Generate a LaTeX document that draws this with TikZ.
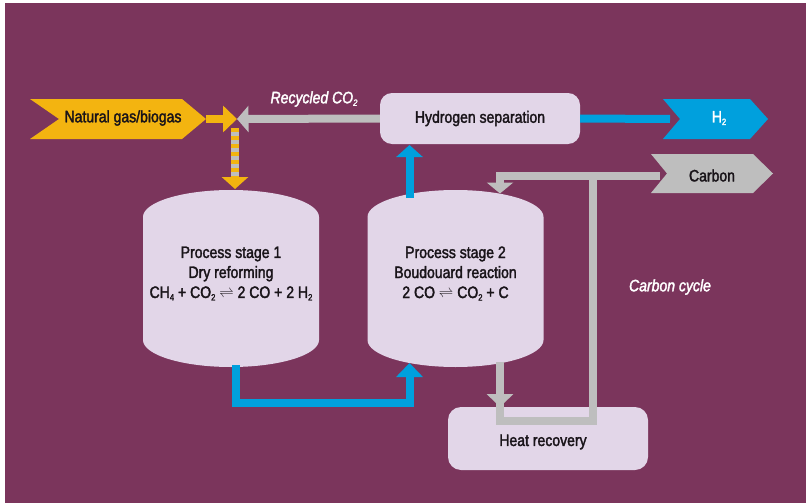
\documentclass[tikz,border=0pt]{standalone}
\usepackage{fontspec}
\setmainfont{Liberation Sans}[FakeStretch=0.85,FakeBold=2]
\usetikzlibrary{arrows.meta}
\definecolor{bgpurple}{RGB}{123,53,92}
\definecolor{lav}{RGB}{226,214,232}
\definecolor{ylw}{RGB}{243,180,16}
\definecolor{blu}{RGB}{0,160,221}
\definecolor{gry}{RGB}{190,190,190}
\definecolor{ink}{RGB}{25,20,25}
\newcommand\lowidx[1]{\raisebox{-2.5pt}{\fontsize{9}{9}\selectfont #1}}
\newcommand\eqsign{\raisebox{0.5pt}{\scalebox{0.85}{$\rightleftharpoons$}}}
\tikzset{
  box/.style={fill=lav, draw=none, rounded corners=12pt, text=ink, font=\fontsize{16.5}{19.5}\selectfont},
  lbl/.style={text=ink, font=\fontsize{16.5}{20}\selectfont, align=center},
  wlbl/.style={text=white, font=\fontsize{16.5}{19.5}\selectfont\itshape},
  flow/.style={line width=8pt},
}
\newcommand\drawvessel[1]{%
  \fill[lav] (#1-88,217) .. controls (#1-88,202.1) and (#1-48.6,190) .. (#1,190)
    .. controls (#1+48.6,190) and (#1+88,202.1) .. (#1+88,217)
    -- (#1+88,340) .. controls (#1+88,354.9) and (#1+48.6,367) .. (#1,367)
    .. controls (#1-48.6,367) and (#1-88,354.9) .. (#1-88,340) -- cycle;}
\begin{document}
\begin{tikzpicture}[x=1pt,y=-1pt]
\useasboundingbox (0,0) rectangle (806,503);
\fill[white] (0,0) rectangle (806,503);
\fill[bgpurple] (5,3) rectangle (806,503);

% vessels
\drawvessel{231}
\drawvessel{455.5}
\node[lbl] (v1) at (231,273.5) {Process stage 1\\Dry reforming\\CH\lowidx{4} + CO\lowidx{2} \eqsign{} 2 CO + 2 H\lowidx{2}};
\node[lbl] (v2) at (455.5,273.5) {Process stage 2\\Boudouard reaction\\2 CO \eqsign{} CO\lowidx{2} + C};

% boxes
\node[box, minimum width=200pt, minimum height=51pt] (hs) at (480,118.5) {Hydrogen separation};
\node[box, minimum width=200pt, minimum height=63pt, rounded corners=13pt] (hr) at (548,438.5) {};
\node[lbl] (hrt) at (543,442) {Heat recovery};

% chevrons
\fill[ylw] (30,99) -- (182,99) -- (206,119) -- (182,139) -- (30,139) -- (59,119) -- cycle;
\node[lbl] (ng) at (123,118) {Natural gas/biogas};
\coordinate (ngtip) at (206,119);

\fill[blu] (663,99) -- (750,99) -- (768,119) -- (750,139) -- (663,139) -- (680,119) -- cycle;
\node[text=white, font=\fontsize{16.5}{19.5}\selectfont] (h2) at (719,118) {H\lowidx{2}};
\coordinate (h2in) at (670,119);

\fill[gry] (651,154) -- (753,154) -- (773,173.5) -- (753,193) -- (651,193) -- (667,173.5) -- cycle;
\node[lbl] (cb) at (712,175.5) {Carbon};
\coordinate (cbin) at (660,176);

% junction
\coordinate (jn) at (237,119);
\coordinate (jd) at (235,128);
\coordinate (v1top) at (235,189);
\draw[flow, gry, -{Triangle[width=26pt,length=11.5pt]}] (hs.west) -- (jn);
\draw[flow, ylw, -{Triangle[width=26pt,length=14pt]}] (ngtip) -- (jn);
\draw[flow, gry] (jd) -- (235,178);
\draw[flow, ylw, dash pattern=on 4pt off 4pt, -{Triangle[width=26pt,length=12pt]}] (jd) -- (v1top);
\node[wlbl] (rc) at (314,99) {Recycled CO\lowidx{2}};

% hydrogen out
\draw[flow, blu] (hs.east) -- (h2in);
% vessel 2 to hydrogen separation
\coordinate (v2up) at (409.5,198);
\draw[flow, blu, -{Triangle[width=26pt,length=12pt]}] (v2up) -- (409.5,145);
% vessel 1 to vessel 2
\coordinate (v1bot) at (235.5,365);
\coordinate (v2bot) at (409.5,363);
\draw[flow, blu, -{Triangle[width=26pt,length=14pt]}] (v1bot) -- (235.5,403) -| (v2bot);

% carbon cycle
\coordinate (v2ctop) at (500,193.5);
\draw[flow, gry, -{Triangle[width=26pt,length=11pt]}] (cbin) -- (500,176) -- (v2ctop);
\coordinate (v2cbot) at (500,362);
\coordinate (hrin) at (500,407);
\draw[flow, gry] (v2cbot) -- (500,420.5) -- (593,420.5) -- (593,176);
\draw[flow, gry, -{Triangle[width=26pt,length=13pt]}] (v2cbot) -- (hrin);
\node[wlbl] (cc) at (670,287) {Carbon cycle};
\end{tikzpicture}
\end{document}
